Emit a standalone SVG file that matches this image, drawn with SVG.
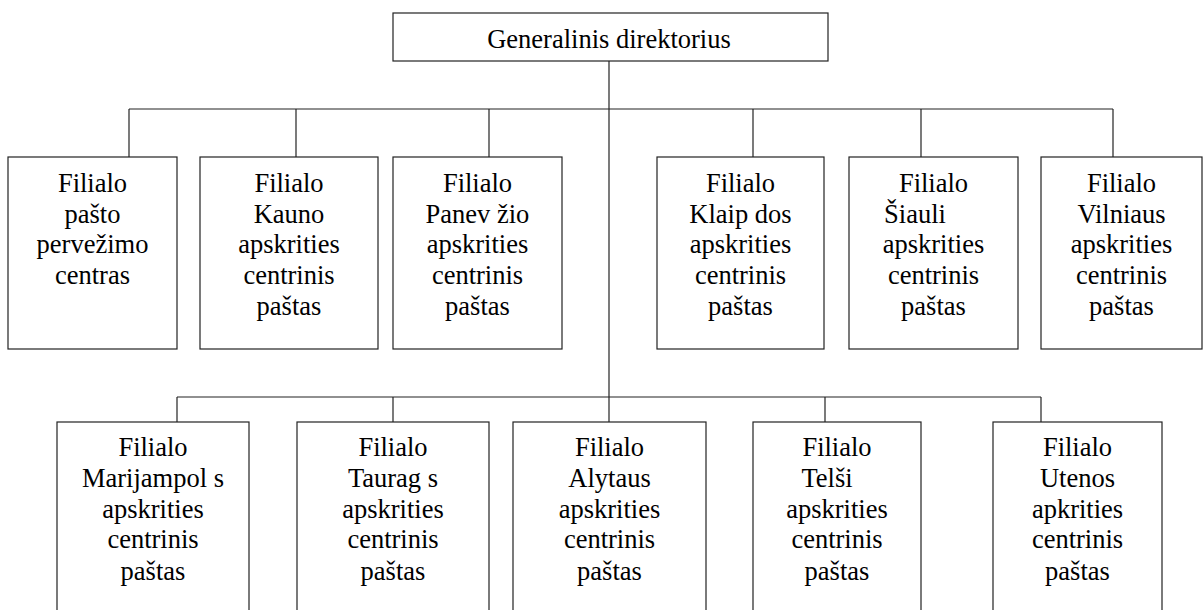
<svg xmlns="http://www.w3.org/2000/svg" width="1203" height="610" viewBox="0 0 1203 610">
<defs>
<rect id="bg" width="1203" height="610" fill="#ffffff"/>
</defs>
<use href="#bg"/>
<g id="connectors" stroke="#222" stroke-width="1.2">
<line x1="609" y1="61" x2="609" y2="422"/>
<line x1="129" y1="109" x2="1113" y2="109"/>
<line x1="129" y1="109" x2="129" y2="157"/>
<line x1="296" y1="109" x2="296" y2="157"/>
<line x1="489" y1="109" x2="489" y2="157"/>
<line x1="753" y1="109" x2="753" y2="157"/>
<line x1="921" y1="109" x2="921" y2="157"/>
<line x1="1113" y1="109" x2="1113" y2="157"/>
<line x1="177" y1="397" x2="1041" y2="397"/>
<line x1="177" y1="397" x2="177" y2="422"/>
<line x1="393" y1="397" x2="393" y2="422"/>
<line x1="825" y1="397" x2="825" y2="422"/>
<line x1="1041" y1="397" x2="1041" y2="422"/>
</g>
<g id="boxes" fill="#fff" stroke="#222" stroke-width="1.2">
<rect x="393" y="13" width="435" height="48"/>
<rect x="8" y="157" width="169" height="192"/>
<rect x="200" y="157" width="178" height="192"/>
<rect x="393" y="157" width="169" height="192"/>
<rect x="657" y="157" width="167" height="192"/>
<rect x="849" y="157" width="169" height="192"/>
<rect x="1041" y="157" width="161" height="192"/>
<rect x="57" y="422" width="192" height="200"/>
<rect x="297" y="422" width="192" height="200"/>
<rect x="513" y="422" width="193" height="200"/>
<rect x="753" y="422" width="168" height="200"/>
<rect x="993" y="422" width="169" height="200"/>
</g>
<g font-family="Liberation Serif" font-size="26.5" text-anchor="middle" fill="#000">
<g id="gd">
<text x="609" y="48">Generalinis direktorius</text>
</g>
<g id="r1a">
<text x="92.5" y="192">Filialo</text>
<text x="92.5" y="223">pašto</text>
<text x="92.5" y="253">pervežimo</text>
<text x="92.5" y="284">centras</text>
</g>
<g id="r1b">
<text x="289" y="192">Filialo</text>
<text x="289" y="223">Kauno</text>
<text x="289" y="253">apskrities</text>
<text x="289" y="284">centrinis</text>
<text x="289" y="315">paštas</text>
</g>
<g id="r1c">
<text x="477.5" y="192">Filialo</text>
<text x="477.5" y="223">Panev žio</text>
<text x="477.5" y="253">apskrities</text>
<text x="477.5" y="284">centrinis</text>
<text x="477.5" y="315">paštas</text>
</g>
<g id="r1d">
<text x="740.5" y="192">Filialo</text>
<text x="740.5" y="223">Klaip dos</text>
<text x="740.5" y="253">apskrities</text>
<text x="740.5" y="284">centrinis</text>
<text x="740.5" y="315">paštas</text>
</g>
<g id="r1e">
<text x="933.5" y="192">Filialo</text>
<text x="915" y="223">Šiauli</text>
<text x="933.5" y="253">apskrities</text>
<text x="933.5" y="284">centrinis</text>
<text x="933.5" y="315">paštas</text>
</g>
<g id="r1f">
<text x="1121.5" y="192">Filialo</text>
<text x="1121.5" y="223">Vilniaus</text>
<text x="1121.5" y="253">apskrities</text>
<text x="1121.5" y="284">centrinis</text>
<text x="1121.5" y="315">paštas</text>
</g>
<g id="r2a">
<text x="153" y="456">Filialo</text>
<text x="153" y="487">Marijampol s</text>
<text x="153" y="518">apskrities</text>
<text x="153" y="548">centrinis</text>
<text x="153" y="580">paštas</text>
</g>
<g id="r2b">
<text x="393" y="456">Filialo</text>
<text x="393" y="487">Taurag s</text>
<text x="393" y="518">apskrities</text>
<text x="393" y="548">centrinis</text>
<text x="393" y="580">paštas</text>
</g>
<g id="r2c">
<text x="609.5" y="456">Filialo</text>
<text x="609.5" y="487">Alytaus</text>
<text x="609.5" y="518">apskrities</text>
<text x="609.5" y="548">centrinis</text>
<text x="609.5" y="580">paštas</text>
</g>
<g id="r2d">
<text x="837" y="456">Filialo</text>
<text x="827" y="487">Telši</text>
<text x="837" y="518">apskrities</text>
<text x="837" y="548">centrinis</text>
<text x="837" y="580">paštas</text>
</g>
<g id="r2e">
<text x="1077.5" y="456">Filialo</text>
<text x="1077.5" y="487">Utenos</text>
<text x="1077.5" y="518">apkrities</text>
<text x="1077.5" y="548">centrinis</text>
<text x="1077.5" y="580">paštas</text>
</g>
</g>
</svg>
